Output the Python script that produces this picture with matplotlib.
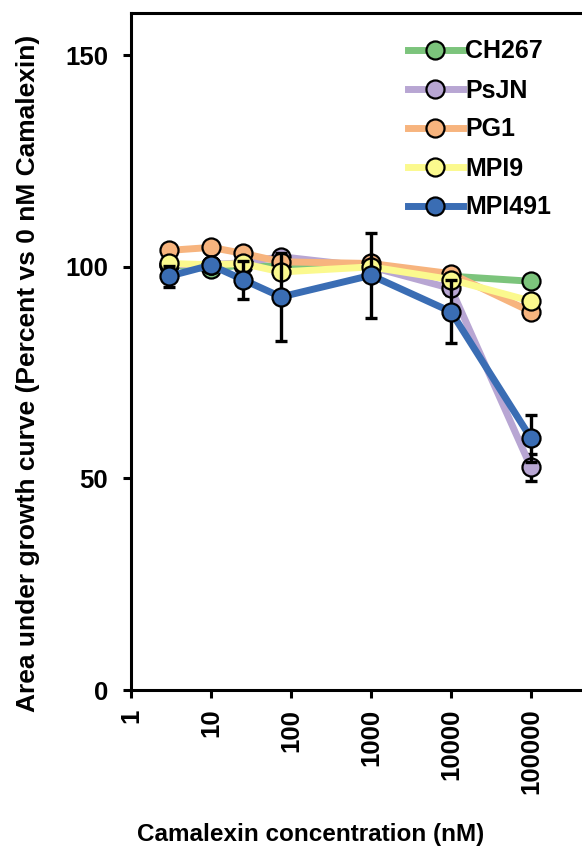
import matplotlib
matplotlib.use('Agg')
import matplotlib.pyplot as plt

plt.rcParams['font.family'] = ['Liberation Sans', 'DejaVu Sans']
plt.rcParams['font.weight'] = 'bold'

# camalexin concentration (nM)
conc = [3, 10, 25, 75, 1000, 10000, 100000]

strains = ['CH267', 'PsJN', 'PG1', 'MPI9', 'MPI491']
colorList = ['#7cc47c', '#b8a6d3', '#f7b47e', '#fbf98e', '#3a6db4']

ch267 = [100.5, 99.5, 100.5, 100.0, 100.0, 97.8, 96.6]
psjn = [100.5, 100.5, 101.0, 102.4, 100.0, 94.9, 52.6]
pg1 = [103.9, 104.6, 103.2, 101.2, 100.8, 98.4, 89.4]
mpi9 = [100.8, 100.5, 100.8, 98.8, 100.0, 97.0, 91.9]
mpi491 = [97.8, 100.4, 97.0, 92.9, 98.0, 89.4, 59.5]

ch267Err = [1.0, 1.0, 1.0, 1.0, 1.0, 1.0, 1.0]
psjnErr = [1.0, 1.0, 1.0, 1.0, 1.0, 1.5, 3.2]
pg1Err = [1.0, 1.0, 1.0, 1.0, 1.0, 1.0, 1.5]
mpi9Err = [1.0, 1.0, 1.0, 1.0, 1.0, 1.0, 1.0]
mpi491Err = [2.5, 1.0, 4.5, 10.4, 10.0, 7.4, 5.6]

values = [ch267, psjn, pg1, mpi9, mpi491]
errors = [ch267Err, psjnErr, pg1Err, mpi9Err, mpi491Err]

fig = plt.figure(figsize=(5.82, 8.58), dpi=100)
ax = fig.add_axes([131 / 582, 168 / 858, 480 / 582, 677 / 858])

for i, name in enumerate(strains):
	ax.errorbar(conc, values[i], yerr=errors[i], fmt='none', ecolor='black',
		elinewidth=2.4, capsize=4.5, capthick=2.4, zorder=2 + 2 * i)
	ax.plot(conc, values[i], color=colorList[i], lw=5, marker='o', ms=13,
		mfc=colorList[i], mec='black', mew=1.6, label=name, zorder=3 + 2 * i)

ax.set_xscale('log')
ax.set_xlim(1, 1e6)
ax.set_ylim(0, 160)
ax.set_yticks([0, 50, 100, 150])
ax.set_xticks([1, 10, 100, 1000, 10000, 100000])
ax.set_xticklabels(['1', '10', '100', '1000', '10000', '100000'], rotation=90)
ax.minorticks_off()

for s in ['left', 'bottom', 'top']:
	ax.spines[s].set_linewidth(2.2)
ax.spines['right'].set_visible(False)
ax.tick_params(axis='both', direction='out', length=5.5, width=2.2, labelsize=18.5)
ax.tick_params(axis='x', pad=8)
ax.tick_params(axis='y', pad=11)

# axis titles placed in figure pixels
fig.text(28 / 582, 1 - 373 / 858, 'Area under growth curve (Percent vs 0 nM Camalexin)', rotation=90,
	ha='center', va='center', fontsize=19, fontweight='bold')
fig.text(311 / 582, 1 - 835 / 858, 'Camalexin concentration (nM)', ha='center', va='center',
	fontsize=17.5, fontweight='bold')

leg = ax.legend(loc='upper left', bbox_to_anchor=(395 / 582, 1 - 27 / 858), bbox_transform=fig.transFigure,
	frameon=False, fontsize=18, handlelength=2.2, handletextpad=0.1, labelspacing=0.6, borderpad=0)

plt.savefig('out.png', dpi=100)
plt.close()
